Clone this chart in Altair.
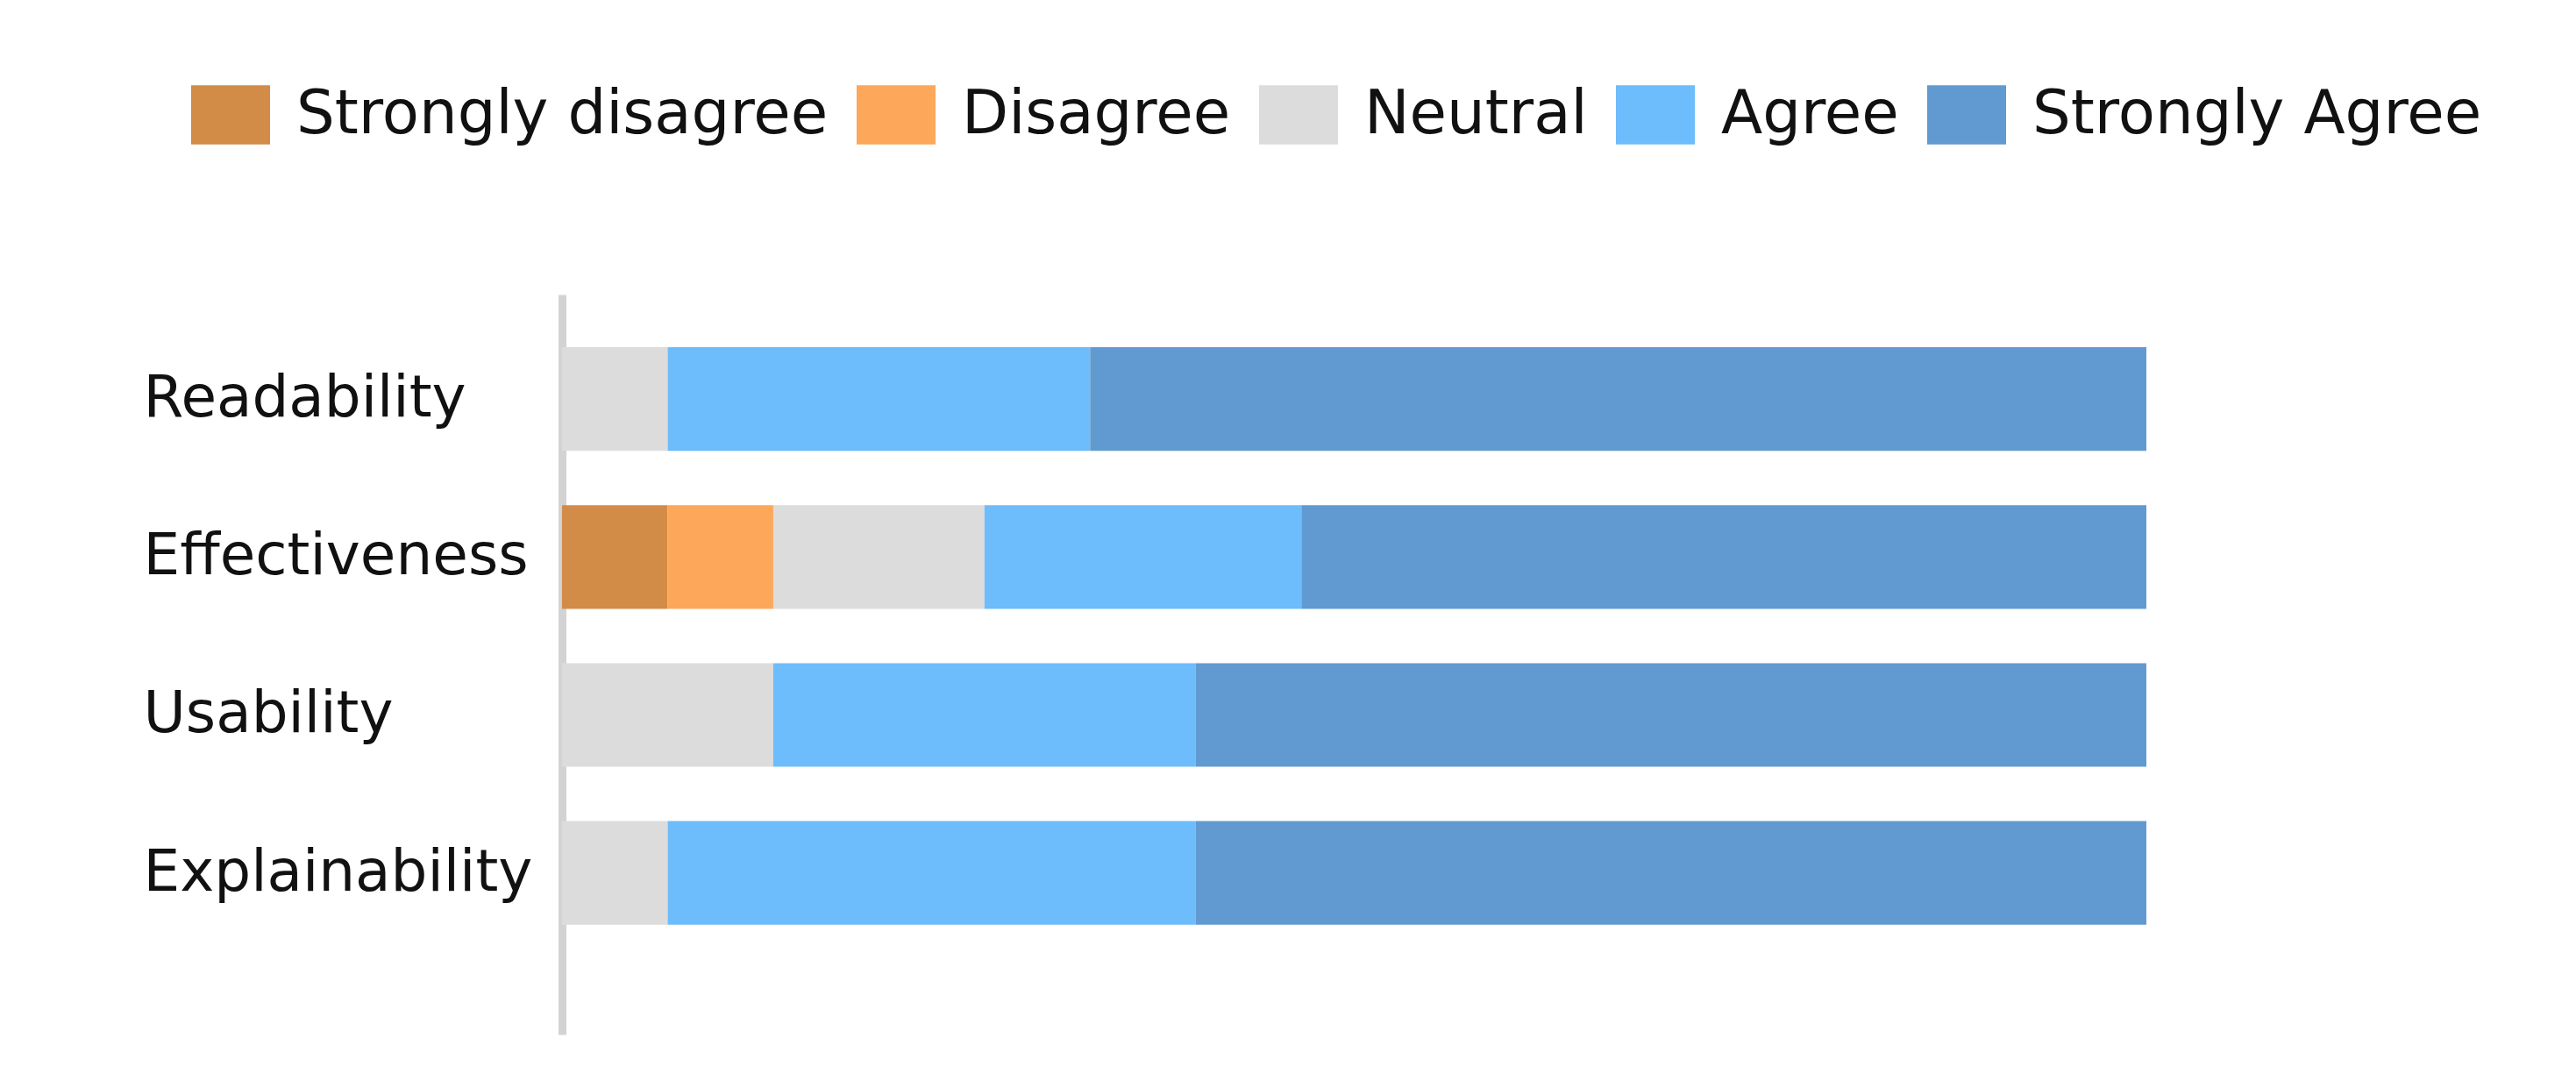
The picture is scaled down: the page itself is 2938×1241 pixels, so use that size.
import altair as alt
import pandas as pd

categories = ["Readability", "Effectiveness", "Usability", "Explainability"]
levels = ["Strongly disagree", "Disagree", "Neutral", "Agree", "Strongly Agree"]
colors = ["#D38B48", "#FCA75A", "#DCDCDC", "#6DBCFB", "#609AD0"]

strongly_disagree = [0, 1, 0, 0]
disagree = [0, 1, 0, 0]
neutral = [1, 2, 2, 1]
agree = [4, 3, 4, 5]
strongly_agree = [10, 8, 9, 9]

series = [strongly_disagree, disagree, neutral, agree, strongly_agree]
rows = []
for li, (lev, vals) in enumerate(zip(levels, series)):
    for cat, v in zip(categories, vals):
        rows.append({"category": cat, "level": lev, "order": li, "count": v})
df = pd.DataFrame(rows)

chart = alt.Chart(df).mark_bar().encode(
    y=alt.Y("category:N", sort=categories,
            scale=alt.Scale(paddingInner=0.344, paddingOuter=0.514, align=0.324),
            axis=alt.Axis(title=None, ticks=False, tickSize=0, domain=True,
                          domainColor="#D3D3D3", domainWidth=9,
                          labelAlign="left", labelPadding=478,
                          labelBaseline="middle", labelOffset=0,
                          labelFont="DejaVu Sans", labelFontSize=66,
                          labelLimit=1000,
                          labelColor="#111111")),
    x=alt.X("count:Q", stack="zero", scale=alt.Scale(domain=[0, 15], nice=False), axis=None),
    color=alt.Color("level:N", scale=alt.Scale(domain=levels, range=colors),
                    legend=alt.Legend(title=None, orient="none", direction="horizontal",
                                      legendX=-423, legendY=-250,
                                      symbolType="M-1,-0.75L1,-0.75L1,0.75L-1,0.75Z",
                                      symbolSize=8100, symbolStrokeWidth=0,
                                      symbolOpacity=1,
                                      labelFont="DejaVu Sans", labelFontSize=69,
                                      labelColor="#111111", labelOffset=30,
                                      columnPadding=32, padding=0, labelLimit=1000)),
    order=alt.Order("order:Q"),
).properties(
    width=1807, height=844,
    autosize="none",
    padding={"left": 633, "top": 328, "right": 470, "bottom": 45},
).configure_view(strokeWidth=0)

chart.save("out.html", embed_options={"renderer": "svg", "actions": False})
